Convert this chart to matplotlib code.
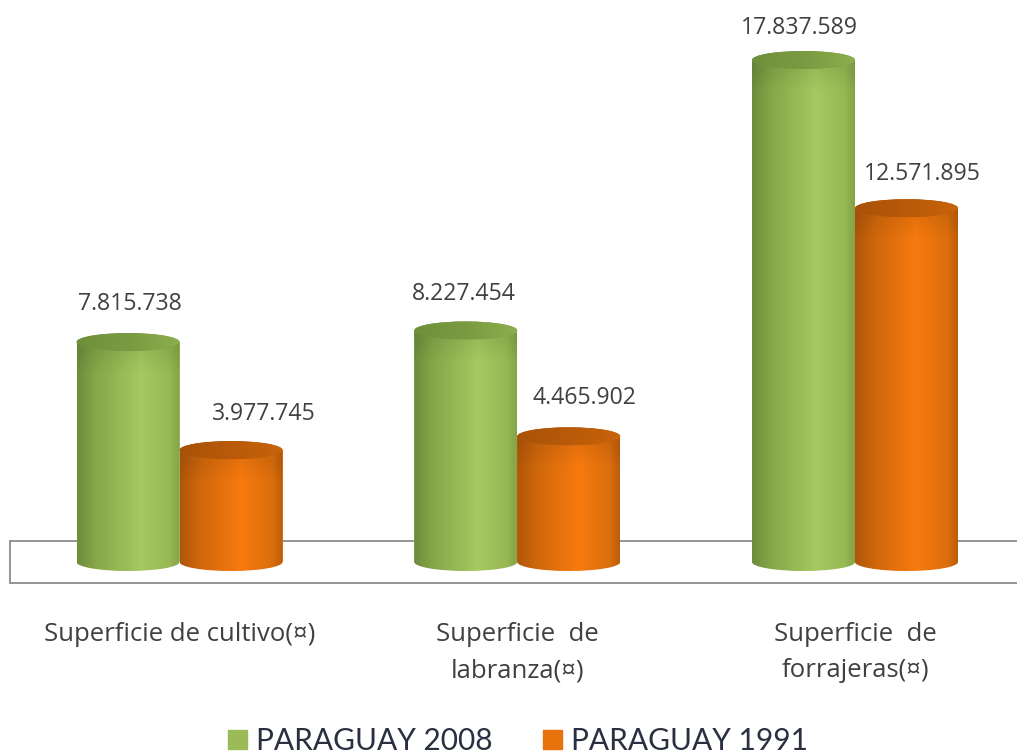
import numpy as np
import matplotlib
matplotlib.use("Agg")
import matplotlib.pyplot as plt
from matplotlib.patches import Ellipse, Rectangle, Patch, PathPatch
from matplotlib.path import Path

categories = ["Superficie de cultivo(¤)", "Superficie  de\nlabranza(¤)", "Superficie  de\nforrajeras(¤)"]
series_names = ["PARAGUAY 2008", "PARAGUAY 1991"]
paraguay_2008 = [7815738, 8227454, 17837589]
paraguay_1991 = [3977745, 4465902, 12571895]
value_labels_2008 = ["7.815.738", "8.227.454", "17.837.589"]
value_labels_1991 = ["3.977.745", "4.465.902", "12.571.895"]

W, H = 1017, 756
BASE_PX = 562
PX_PER_UNIT = 502 / 17837589
GROUP_PX = 337.75
FIRST_PX = 179.5
BAR_PX = 103
ELL_PX = 9

plt.rcParams['font.family'] = ['Open Sans', 'DejaVu Sans']
fig = plt.figure(figsize=(W / 100, H / 100), dpi=100, facecolor='white')
ax = fig.add_axes([0, 1 - BASE_PX / H, 1, BASE_PX / H])
xlim = (-FIRST_PX / GROUP_PX, (W - FIRST_PX) / GROUP_PX)
ylim = (0, BASE_PX / PX_PER_UNIT)
bw = BAR_PX / GROUP_PX
ell = ELL_PX / PX_PER_UNIT


def mix(stops, n=120):
    pos = [s[0] for s in stops]
    cols = np.array([matplotlib.colors.to_rgb(s[1]) for s in stops])
    t = np.linspace(0, 1, n)
    return np.stack([np.interp(t, pos, cols[:, k]) for k in range(3)], axis=1)


STYLE = {
    0: dict(body=[(0, '#6e8c3c'), (0.18, '#86a648'), (0.62, '#a6c960'), (0.9, '#97b853'), (1, '#84a447')],
            top=[(0, '#6f8f3a'), (0.5, '#7a9a42'), (1, '#8dae4b')]),
    1: dict(body=[(0, '#b0560a'), (0.2, '#d0680c'), (0.6, '#f87a0e'), (0.9, '#dc6e0c'), (1, '#bd5d0a')],
            top=[(0, '#a85208'), (0.5, '#b85a08'), (1, '#c8640a')]),
}


def cylinder(x, value, s):
    left, right = x, x + bw
    cx = x + bw / 2
    k = 0.5523
    hw = bw / 2
    verts = [(left, value), (left, 0),
             (left, -k * ell), (cx - k * hw, -ell), (cx, -ell),
             (cx + k * hw, -ell), (right, -k * ell), (right, 0),
             (right, value), (left, value)]
    codes = [Path.MOVETO, Path.LINETO, Path.CURVE4, Path.CURVE4, Path.CURVE4,
             Path.CURVE4, Path.CURVE4, Path.CURVE4, Path.LINETO, Path.CLOSEPOLY]
    ax.bar(cx, value, bw, color=matplotlib.colors.to_hex(mix(STYLE[s]['body'])[70]), zorder=2)
    body = mix(STYLE[s]['body'])
    nrows = int((value + ell) * PX_PER_UNIT)
    img = np.repeat(body[None, :, :], nrows, axis=0)
    # faint darker rim just under the top cap
    shade = 1 - 0.07 * np.clip(1 - (np.arange(nrows) - ELL_PX) / 22, 0, 1)
    img = img * shade[:, None, None]
    im = ax.imshow(img, extent=(left, right, -ell, value), origin='upper',
                   aspect='auto', zorder=3, interpolation='bilinear')
    clip = PathPatch(Path(verts, codes), transform=ax.transData, fc='none', ec='none')
    im.set_clip_path(clip)
    im.set_clip_box(fig.bbox)
    # top cap with horizontal gradient
    cap = mix(STYLE[s]['top'])[None, :, :]
    e = Ellipse((cx, value), bw, 2 * ell, transform=ax.transData, fc=matplotlib.colors.to_hex(cap[0, 60]), ec='none', zorder=4)
    ax.add_patch(e)
    im2 = ax.imshow(cap, extent=(left, right, value - ell, value + ell), aspect='auto', zorder=5, interpolation='bilinear')
    im2.set_clip_path(e)


for i in range(3):
    cylinder(i - bw, paraguay_2008[i], 0)
    cylinder(i, paraguay_1991[i], 1)

# Floor box
ax.add_patch(Rectangle((10 / W, 1 - 583 / H), 1.02, 42 / H, transform=fig.transFigure, fc='white', ec='#8c8c8c',
                       lw=1.3, zorder=1, clip_on=False))

ax.set_xlim(xlim)
ax.set_ylim(ylim)
ax.set_xticks(range(3))
ax.set_xticklabels(categories, fontsize=18.5, color='#404040', linespacing=1.6)
ax.tick_params(axis='x', length=0, pad=43)
ax.set_yticks([])
for sp in ax.spines.values():
    sp.set_visible(False)
ax.patch.set_visible(False)

# (dx, dy) offsets of value labels from the cap centre, in px
off_2008 = [(2, 38), (-2, 36), (-4, 32)]
off_1991 = [(33, 36), (16, 38), (16, 34)]
for i in range(3):
    for x, v, t, o in ((i - bw / 2, paraguay_2008[i], value_labels_2008[i], off_2008[i]),
                       (i + bw / 2, paraguay_1991[i], value_labels_1991[i], off_1991[i])):
        ax.annotate(t, (x, v), xytext=(o[0] * .72, o[1] * .72), textcoords='offset points',
                    ha='center', va='center', fontsize=16.6, color='#404040', zorder=6)

fig.legend(handles=[Patch(color='#9bbb59', label=series_names[0]), Patch(color='#e8720c', label=series_names[1])],
           loc='center', bbox_to_anchor=(518 / W, 1 - 741 / H), ncol=2, frameon=False,
           prop={'family': 'Lato', 'size': 21.5},
           handlelength=0.62, handleheight=0.62, handletextpad=0.3, columnspacing=1.7, labelcolor='#2b3040')

fig.savefig('out.png', dpi=100, facecolor='white')
